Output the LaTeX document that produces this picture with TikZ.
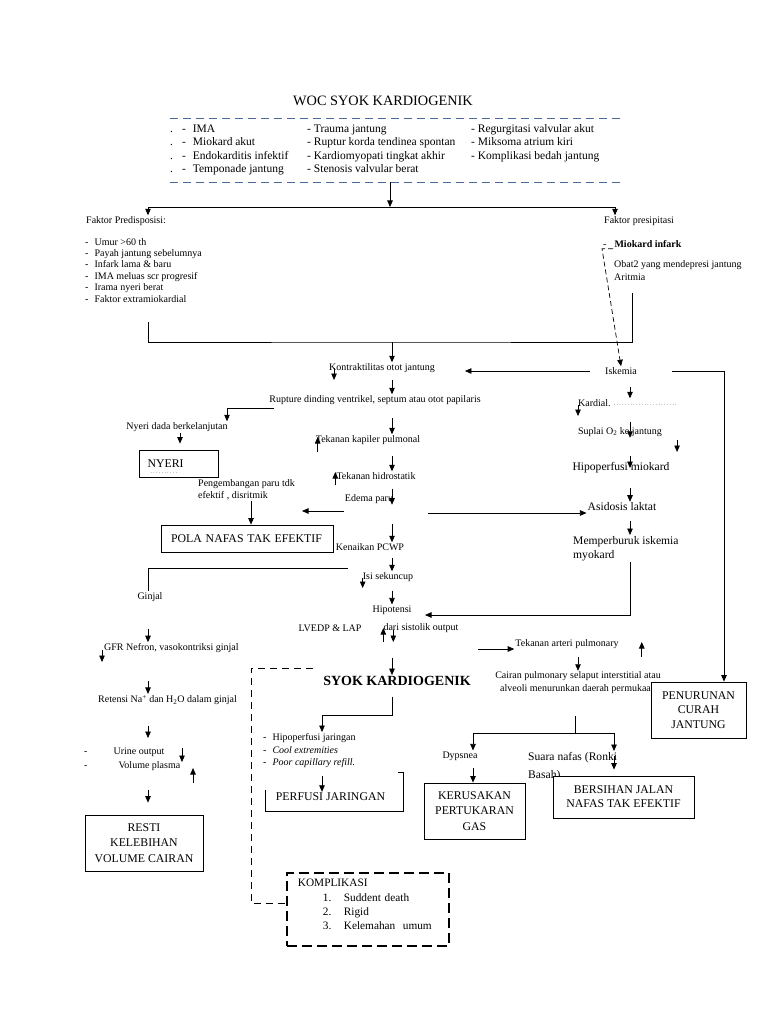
\documentclass[tikz,border=0pt]{standalone}
\usepackage{fontspec}
\setmainfont{Liberation Serif}
\usetikzlibrary{arrows.meta,calc}
\definecolor{hdrblue}{HTML}{4A6A9C}
\tikzset{
  small/.style={inner sep=1pt, font=\fontsize{10}{12}\selectfont},
  med/.style={inner sep=1pt, font=\fontsize{11.6}{14}\selectfont},
  box/.style={draw, fill=white, line width=0.8pt, align=center, inner sep=2pt, font=\fontsize{11.8}{15}\selectfont},
  arr/.style={line width=0.7pt, -{Triangle[length=6.5pt,width=5.5pt]}},
  link/.style={line width=0.7pt},
  hdrline/.style={hdrblue, line width=0.8pt, dash pattern=on 8pt off 5pt},
  kdash/.style={line width=0.8pt, dash pattern=on 7pt off 5pt},
  kbox/.style={draw, line width=1.8pt, dash pattern=on 10pt off 5pt},
  faint/.style={gray!45, line width=0.8pt, dotted},
}
\begin{document}
\begin{tikzpicture}[x=1pt,y=-1pt]
  \fill[white] (0,0) rectangle (768,1024);
  \useasboundingbox (0,0) rectangle (768,1024);

  \coordinate (colL) at (148,0);
  \coordinate (colM) at (392,0);
  \coordinate (colR) at (630,0);
  \coordinate (colRR) at (724,0);
  \coordinate (colP) at (615,0);
  \coordinate (colN) at (227,0);
  \coordinate (colNy) at (180,0);
  \coordinate (colPo) at (251,0);
  \coordinate (colH) at (322,0);
  \coordinate (colK) at (251,0);
  \coordinate (colD) at (473,0);
  \coordinate (colS) at (614,0);

  \node[font=\fontsize{14.3}{16}\selectfont] (title) at (383,101) {WOC SYOK KARDIOGENIK};
  \node[minimum width=452pt, minimum height=63pt, inner sep=0pt] (riskbox) at (396,150.5) {};
  \draw[hdrline] (riskbox.north west) -- (riskbox.north east);
  \draw[hdrline] (riskbox.south west) -- (riskbox.south east);
  \node[anchor=north west, inner sep=0pt, font=\fontsize{11.5}{13.4}\selectfont] (risk1) at (170,123)
    {\begin{tabular}{@{}l@{\hspace{9pt}}l@{\hspace{7pt}}l@{}}
      . & - & IMA\\ . & - & Miokard akut\\ . & - & Endokarditis infektif\\ . & - & Temponade jantung
    \end{tabular}};
  \node[anchor=north west, inner sep=0pt, font=\fontsize{11.5}{13.4}\selectfont] (risk2) at (307,123)
    {\begin{tabular}{@{}l@{}}
      - Trauma jantung\\ - Ruptur korda tendinea spontan\\ - Kardiomyopati tingkat akhir\\ - Stenosis valvular berat
    \end{tabular}};
  \node[anchor=north west, inner sep=0pt, font=\fontsize{11.5}{13.4}\selectfont] (risk3) at (471,123)
    {\begin{tabular}{@{}l@{}}
      - Regurgitasi valvular akut\\ - Miksoma atrium kiri\\ - Komplikasi bedah jantung
    \end{tabular}};

  \node[small, anchor=west] (predis) at (85,221) {Faktor Predisposisi:};
  \node[anchor=north west, inner sep=0pt, font=\fontsize{10}{11.4}\selectfont] (predislist) at (85,237)
    {\begin{tabular}{@{}l@{\hspace{6pt}}l@{}}
      - & Umur >60 th\\ - & Payah jantung sebelumnya\\ - & Infark lama \& baru\\
      - & IMA meluas scr progresif\\ - & Irama nyeri berat\\ - & Faktor extramiokardial
    \end{tabular}};
  \node[small, anchor=west] (presip) at (603,221) {Faktor presipitasi};
  \node[small, anchor=west] (miokard) at (602,244) {-\hspace{8pt}\textbf{Miokard infark}};
  \node[small, anchor=north west, align=left, font=\fontsize{10}{13}\selectfont] (obat) at (613,259) {Obat2 yang mendepresi jantung\\Aritmia};

  \node[small] (kontra) at (382,368) {Kontraktilitas otot jantung};
  \node[small] (rupture) at (375,400) {Rupture dinding ventrikel, septum atau otot papilaris};
  \node[small] (kapiler) at (368,440) {Tekanan kapiler pulmonal};
  \node[small] (hidro) at (376,476) {Tekanan hidrostatik};
  \node[small] (edema) at (369,499) {Edema paru};
  \node[small] (pcwp) at (370,547) {Kenaikan PCWP};
  \node[small] (isi) at (388,577) {Isi sekuncup};
  \node[small] (hipo) at (392,610) {Hipotensi};
  \node[small] (lvedp) at (330,628) {LVEDP \& LAP};
  \node[small] (sistol) at (421,628) {dari sistolik output};
  \node[font=\bfseries\fontsize{14}{16}\selectfont, inner sep=1pt] (syok) at (397,681) {SYOK KARDIOGENIK};

  \node[small] (iskemia) at (621,371) {Iskemia};
  \node[small, anchor=west] (kardial) at (577,403) {Kardial.};
  \node[small] (suplai) at (620,432) {Suplai O\textsubscript{2} ke jantung};
  \node[med] (hipomio) at (621,468) {Hipoperfusi miokard};
  \node[med] (asidosis) at (622,507) {Asidosis laktat};
  \node[med, anchor=north west, align=left] (memper) at (572,535) {Memperburuk iskemia\\myokard};

  \node[small] (nyeridada) at (177,427) {Nyeri dada berkelanjutan};
  \node[box, minimum width=79pt, minimum height=27pt, text width=62pt, align=left, inner xsep=8pt] (nyeri) at (178.5,463.5) {NYERI};
  \node[small, anchor=north west, align=left, font=\fontsize{10}{12}\selectfont] (pengembangan) at (197,478) {Pengembangan paru tdk\\efektif , disritmik};
  \node[box, minimum width=172pt, minimum height=27pt, text width=152pt, align=left, inner xsep=9pt] (pola) at (247,538.5) {POLA NAFAS TAK EFEKTIF};

  \node[small] (ginjal) at (150,597) {Ginjal};
  \node[small, anchor=west] (gfr) at (103,648) {GFR Nefron, vasokontriksi ginjal};
  \node[small, anchor=west] (retensi) at (97,700) {Retensi Na\textsuperscript{+} dan H\textsubscript{2}O dalam ginjal};
  \node[anchor=north west, inner sep=0pt, font=\fontsize{10}{14}\selectfont] (urine) at (84,744)
    {\begin{tabular}{@{}l@{\hspace{26pt}}l@{}}
      - & Urine output\\ - & \hspace{5pt}Volume plasma
    \end{tabular}};
  \node[box, minimum width=118pt, minimum height=56pt, font=\fontsize{11.8}{15.5}\selectfont] (resti) at (144,843) {RESTI\\KELEBIHAN\\VOLUME CAIRAN};

  \node[anchor=north west, inner sep=0pt, font=\fontsize{10}{12.5}\selectfont] (hjlist) at (263,732)
    {\begin{tabular}{@{}l@{\hspace{6pt}}l@{}}
      - & Hipoperfusi jaringan\\ - & \textit{Cool extremities}\\ - & \textit{Poor capillary refill.}
    \end{tabular}};
  \node[inner sep=1pt, font=\fontsize{11.8}{13}\selectfont] (perfusi) at (330.5,797) {PERFUSI JARINGAN};
  \node[kbox, anchor=north west, minimum width=162pt, minimum height=73pt, text width=140pt, inner xsep=11pt, align=left, font=\fontsize{11.3}{14.3}\selectfont] (komp) at (286,872)
    {KOMPLIKASI\\
     \hspace*{25pt}\makebox[21pt][l]{1.}Suddent death\\
     \hspace*{25pt}\makebox[21pt][l]{2.}Rigid\\
     \hspace*{25pt}\makebox[21pt][l]{3.}Kelemahan\ \ umum\rule[-10pt]{0pt}{10pt}};

  \node[small] (tap) at (567,644) {Tekanan arteri pulmonary};
  \node[small, align=center, font=\fontsize{10}{13}\selectfont] (cairan) at (578,683) {Cairan pulmonary selaput interstitial atau\\alveoli menurunkan daerah permukaan};
  \node[box, minimum width=95pt, minimum height=56pt, font=\fontsize{11.8}{14.5}\selectfont] (penurunan) at (698.5,710) {PENURUNAN\\CURAH\\JANTUNG};
  \node[small] (dyps) at (460,756) {Dypsnea};
  \node[med, anchor=north west, align=left, font=\fontsize{11.6}{18}\selectfont] (suara) at (527,751) {Suara nafas (Ronki\\Basah)};
  \node[box, minimum width=101pt, minimum height=56pt, font=\fontsize{11.8}{15.5}\selectfont] (kerusakan) at (474.5,811) {KERUSAKAN\\PERTUKARAN\\GAS};
  \node[box, minimum width=141pt, minimum height=42pt, font=\fontsize{11.8}{14}\selectfont] (bersihan) at (623.5,797) {BERSIHAN JALAN\\NAFAS TAK EFEKTIF};

  \coordinate (split) at (390,207);
  \coordinate (bl) at (148,322);
  \coordinate (br) at (632,293);
  \coordinate (brk) at (392,342);
  \coordinate (edemaL) at (302,511);
  \coordinate (edemaR) at (428,513);
  \coordinate (hipoR) at (425,615);
  \coordinate (tapL) at (478,649);
  \coordinate (csplit) at (575,733);
  \coordinate (kstart) at (313,668);

  \begin{scope}[link]
    \draw[arr] (riskbox.south -| split) -- (split);
    \draw[arr] (split) -| (predis.north -| colL);
    \draw[arr] (split) -| (presip.north -| colP);
    \draw (bl) |- (brk) -| (br);
    \draw[arr] (brk) -- (kontra.north -| colM);
    \draw[arr, dash pattern=on 5pt off 3pt] ($(miokard.south west)+(11,0)$) -- (miokard.south west) -- (iskemia.north);

    \draw[arr, shorten <=6pt] (kontra.south -| colM) -- (rupture.north -| colM);
    \draw[arr, shorten <=12pt] (rupture.south -| colM) -- (kapiler.north -| colM);
    \draw[arr, shorten <=10pt] (kapiler.south -| colM) -- (hidro.north -| colM);
    \draw[arr, shorten <=8pt] (hidro.south -| colM) -- (edema.south -| colM);
    \draw[arr, shorten <=19pt] (edema.south -| colM) -- (pcwp.north -| colM);
    \draw[arr, shorten <=6pt] (pcwp.south -| colM) -- (isi.north -| colM);
    \draw[arr, shorten <=8pt] (isi.south -| colM) -- (hipo.north -| colM);
    \draw[arr, shorten <=24pt] (sistol.south -| colM) -- (syok.north -| colM);

    \draw[arr] ($(kontra.west)+(6,0)$) -- ++(0,12);
    \draw[arr] ($(kapiler.west)+(3,12)$) -- ++(0,-15);
    \draw[arr] ($(hidro.west)+(0,9)$) -- ++(0,-13);
    \draw[arr] ($(isi.west)+(1,1)$) -- ++(0,10);
    \draw[arr] ($(sistol.west)+(1,14)$) -- ++(0,-14);
    \draw[arr] ($(sistol.west)+(11,2)$) -- ++(0,12);

    \draw[arr, shorten <=14pt, shorten >=29pt] (iskemia.west) -- (iskemia.west -| kontra.east);
    \draw[arr, shorten <=34pt] (iskemia.east) -| (penurunan.north -| colRR);
    \draw[arr, shorten <=11pt] (iskemia.south -| colR) -- (kardial.north -| colR);
    \draw[arr, shorten <=14pt] (kardial.south -| colR) -- (suplai.south -| colR);
    \draw[arr, shorten <=18pt] (suplai.south -| colR) -- (hipomio.center -| colR);
    \draw[arr, shorten <=13pt] (hipomio.south -| colR) -- (asidosis.north -| colR);
    \draw[arr, shorten <=9pt] (asidosis.south -| colR) -- (memper.north -| colR);
    \draw[arr] (memper.south -| colR) |- (hipoR);
    \draw[arr] ($(kardial.west)+(1,2)$) -- ++(0,11);
    \draw[arr] ($(suplai.east)+(14,8)$) -- ++(0,12);
    \draw[faint] ($(kardial.east)+(2,1)$) -- ++(62,0);

    \draw[arr] (edemaL -| edema.west) -- (edemaL);
    \draw[arr] (edemaR) -- (edemaR -| asidosis.west);

    \draw[arr] ($(rupture.west)+(6,8)$) -| (nyeridada.north -| colN);
    \draw[arr, shorten >=6pt] (nyeridada.south -| colNy) -- (nyeri.north -| colNy);
    \draw[faint] ($(nyeri.center)+(-28,9)$) -- ++(28,0);
    \draw[arr] (pengembangan.south -| colPo) -- (pola.north -| colPo);

    \draw ($(isi.west)+(-14,-9)$) -| (ginjal.north -| colL);
    \draw[arr, shorten <=26pt] (ginjal.south -| colL) -- (gfr.north -| colL);
    \draw[arr, shorten <=27pt] (gfr.south -| colL) -- (retensi.north -| colL);
    \draw[arr, shorten <=20pt, shorten >=6pt] (retensi.south -| colL) -- (urine.north -| colL);
    \draw[arr, shorten <=18pt, shorten >=12pt] (urine.south -| colL) -- (resti.north -| colL);
    \draw[arr] ($(gfr.west)+(-1,2)$) -- ++(0,12);
    \draw[arr] ($(urine.north west)+(98,4)$) -- ++(0,14);
    \draw[arr] ($(urine.north west)+(109,39)$) -- ++(0,-15);

    \draw[arr, shorten <=10pt] (syok.south -| colM) |- ($(hjlist.north -| colH)+(0,-17)$) -- (hjlist.north -| colH);
    \draw[arr, shorten <=6pt] (hjlist.south -| colH) -- (perfusi.north -| colH);
    \draw[line width=0.8pt] ($(perfusi.center)+(-65.5,-7)$) -- ++(0,21) -- ++(138,0) -- ++(0,-39) -- ++(-5,0);
    \draw[kdash] (kstart) -| ($(komp.west -| colK)+(0,-6)$) -- ($(komp.west)+(0,-6)$);

    \draw[arr] (tapL) -- (tapL -| tap.west);
    \draw[arr] ($(tap.east)+(22,13)$) -- ++(0,-15);
    \draw[arr, shorten <=7pt] (tap.south -| cairan) -- (cairan.north);
    \draw[shorten <=21pt] (cairan.south -| csplit) -- (csplit);
    \draw[arr] (csplit) -| (dyps.north -| colD);
    \draw[arr] (csplit) -| (suara.north -| colS);
    \draw[arr, shorten <=6pt] (dyps.south -| colD) -- (kerusakan.north -| colD);
    \draw[arr, shorten >=6pt] ($(suara.north -| colS)+(0,5)$) -- (bersihan.north -| colS);
  \end{scope}
\end{tikzpicture}
\end{document}
